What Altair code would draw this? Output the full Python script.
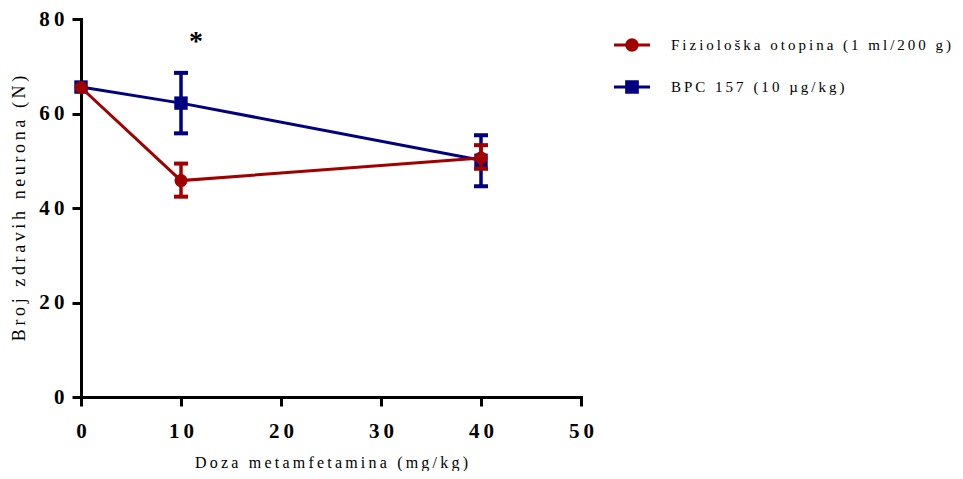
import altair as alt
import pandas as pd

# ---- data ----
series_names = ["Fiziološka otopina (1 ml/200 g)", "BPC 157 (10 µg/kg)"]
series_colors = ["#A00000", "#000080"]
doses = [0, 10, 40]
saline_mean = [65.5, 45.8, 50.6]
saline_lo = [None, 42.4, 48.3]
saline_hi = [None, 49.4, 53.3]
bpc_mean = [65.6, 62.2, 50.1]
bpc_lo = [None, 55.8, 44.6]
bpc_hi = [None, 68.6, 55.4]
x_ticks = [0, 10, 20, 30, 40, 50]
y_ticks = [0, 20, 40, 60, 80]
star_x = [11.5]
star_y = [73.4]
star_text = ["*"]

x_title = "Doza metamfetamina (mg/kg)"
y_title = "Broj zdravih neurona (N)"

THIN = "\u2009"


def spaced(s):
    return THIN.join(list(s))


labels = [spaced(n) for n in series_names]

rows = []
for name, lab, m, lo, hi in [
    (series_names[0], labels[0], saline_mean, saline_lo, saline_hi),
    (series_names[1], labels[1], bpc_mean, bpc_lo, bpc_hi),
]:
    for d, mv, l, h in zip(doses, m, lo, hi):
        rows.append({"dose": d, "mean": mv, "lo": l, "hi": h, "series": name, "label": lab})
df = pd.DataFrame(rows)
star_df = pd.DataFrame({"x": star_x, "y": star_y, "t": star_text})

xscale = alt.Scale(domain=[0, 50], nice=False, zero=False)
yscale = alt.Scale(domain=[0, 80], nice=False)

circle_path = ("M-1,-0.09L1,-0.09L1,0.09L-1,0.09Z "
               "M0.37,0A0.37,0.37,0,1,1,-0.37,0A0.37,0.37,0,1,1,0.37,0Z")
square_path = ("M-1,-0.09L1,-0.09L1,0.09L-1,0.09Z "
               "M-0.38,-0.38L0.38,-0.38L0.38,0.38L-0.38,0.38Z")

digit_expr = ("length(datum.label) > 1 ? substring(datum.label, 0, 1) + '" + THIN +
              "' + substring(datum.label, 1) : datum.label")

x_enc = alt.X("dose:Q", scale=xscale,
              axis=alt.Axis(values=x_ticks, title=spaced(x_title), labelExpr=digit_expr,
                            labelPadding=14, titlePadding=13, labelFlush=False))
y_enc = alt.Y("mean:Q", scale=yscale,
              axis=alt.Axis(values=y_ticks, title=spaced(y_title), labelExpr=digit_expr,
                            labelPadding=8, titlePadding=10, titleFontSize=18, labelFlush=False))

base = alt.Chart(df)


def series_layers(name, color, shape, size):
    b = base.transform_filter(alt.datum.series == name)
    line = b.mark_line(color=color, strokeWidth=3, opacity=1).encode(x=x_enc, y=y_enc)
    rule = b.mark_rule(color=color, strokeWidth=3.5, opacity=1).encode(
        x="dose:Q", y="lo:Q", y2="hi:Q")
    cap_lo = b.mark_tick(color=color, orient="horizontal", size=14, thickness=4,
                         opacity=1).encode(x="dose:Q", y="lo:Q")
    cap_hi = b.mark_tick(color=color, orient="horizontal", size=14, thickness=4,
                         opacity=1).encode(x="dose:Q", y="hi:Q")
    pts = b.mark_point(color=color, filled=True, opacity=1, shape=shape, size=size).encode(
        x="dose:Q", y="mean:Q")
    return [line, rule, cap_lo, cap_hi, pts]


legend_layer = base.transform_filter("false").mark_point(filled=True, opacity=1, size=1296).encode(
    x="dose:Q", y="mean:Q",
    color=alt.Color("label:N", scale=alt.Scale(domain=labels, range=series_colors),
                    legend=alt.Legend(title=None)),
    shape=alt.Shape("label:N", scale=alt.Scale(domain=labels, range=[circle_path, square_path]),
                    legend=alt.Legend(title=None)),
)

star = alt.Chart(star_df).mark_text(
    font="Liberation Serif", fontWeight="bold", fontSize=28, baseline="alphabetic",
    color="black").encode(x=alt.X("x:Q", scale=xscale), y=alt.Y("y:Q", scale=yscale), text="t:N")

layers = series_layers(series_names[1], series_colors[1], "square", 180) + \
    series_layers(series_names[0], series_colors[0], "circle", 170) + [star, legend_layer]

chart = alt.layer(*layers).properties(
    width=500, height=378,
    autosize=alt.AutoSizeParams(type="none"),
    padding={"left": 73, "top": 11, "right": 374, "bottom": 74},
).configure_view(stroke=None).configure_axis(
    grid=False, domainColor="black", domainWidth=3, tickColor="black", tickWidth=3,
    tickSize=9, labelFont="Liberation Serif", labelFontWeight="bold", labelFontSize=21,
    labelColor="black", titleFont="Liberation Serif", titleFontWeight="normal",
    titleFontSize=16, titleColor="black", domainCap="square",
).configure_legend(
    orient="none", legendX=533, legendY=8, padding=0, symbolSize=1296,
    symbolStrokeWidth=0, labelOffset=21, rowPadding=16, labelFont="Liberation Serif",
    labelFontSize=15, labelColor="black", labelLimit=0,
)

chart.save("out.html", embed_options={"renderer": "svg", "actions": False})
